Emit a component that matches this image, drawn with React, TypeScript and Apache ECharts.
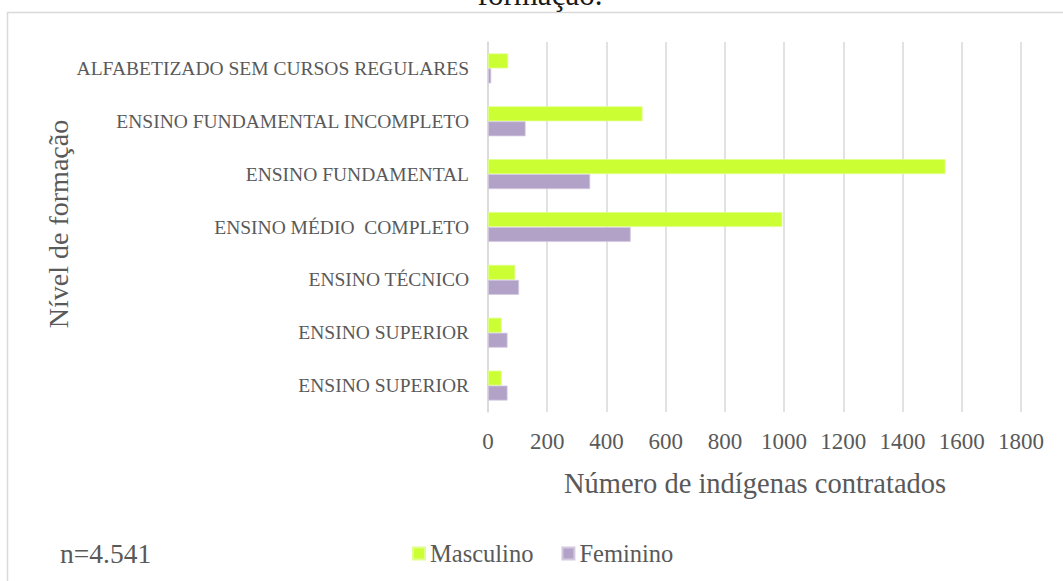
import React, { useEffect, useRef } from "react";
import * as echarts from "echarts";

const categories = [
  "ALFABETIZADO SEM CURSOS REGULARES",
  "ENSINO FUNDAMENTAL INCOMPLETO",
  "ENSINO FUNDAMENTAL",
  "ENSINO MÉDIO  COMPLETO",
  "ENSINO TÉCNICO",
  "ENSINO SUPERIOR",
  "ENSINO SUPERIOR",
];
const masculino = [68, 522, 1545, 994, 92, 46, 46];
const feminino = [11, 127, 345, 482, 105, 66, 66];
const seriesNames = ["Masculino", "Feminino"];
const titleText = "formação.";
const xAxisName = "Número de indígenas contratados";
const yAxisName = "Nível de formação";
const noteText = "n=4.541";

const FONT = "'Liberation Serif', serif";
const GREY = "#595959";

export default function App() {
  const ref = useRef<HTMLDivElement>(null);
  useEffect(() => {
    if (!ref.current) return;
    const chart = echarts.init(ref.current, undefined, { renderer: "svg" });
    chart.setOption({
      animation: false,
      backgroundColor: "#ffffff",
      textStyle: { fontFamily: FONT },
      grid: { left: 488, top: 42, width: 533, height: 370, containLabel: false },
      legend: {
        left: 407,
        top: 536,
        icon: "rect",
        itemWidth: 12,
        itemHeight: 12,
        itemGap: 28,
        textStyle: { fontSize: 24.5, color: GREY, fontFamily: FONT },
        data: seriesNames,
      },
      xAxis: {
        type: "value",
        min: 0,
        max: 1800,
        interval: 200,
        axisLine: { show: false },
        axisTick: { show: false },
        splitLine: { lineStyle: { color: "#d9d9d9", width: 1.5 } },
        axisLabel: {
          fontSize: 23,
          color: GREY,
          margin: 18,
          fontFamily: FONT,
          formatter: (v: number) => String(v),
        },
      },
      yAxis: {
        type: "category",
        inverse: true,
        data: categories,
        axisLine: { show: true, lineStyle: { color: "#d9d9d9", width: 1.5 } },
        axisTick: { show: false },
        axisLabel: { fontSize: 19.5, color: GREY, margin: 19, fontFamily: FONT },
      },
      series: [
        {
          name: seriesNames[0],
          type: "bar",
          data: masculino,
          barWidth: 15,
          barGap: "0%",
          itemStyle: { color: "#ccff33", borderColor: "#e0ff8a", borderWidth: 0.8 },
        },
        {
          name: seriesNames[1],
          type: "bar",
          data: feminino,
          barWidth: 15,
          barGap: "0%",
          itemStyle: { color: "#b3a2c7", borderColor: "#d3c9df", borderWidth: 0.8 },
        },
      ],
      graphic: [
        {
          type: "rect",
          silent: true,
          z: -1,
          shape: { x: 7.5, y: 12.5, width: 1100, height: 700 },
          style: { fill: "none", stroke: "#d9d9d9", lineWidth: 1.5 },
        },
        {
          type: "text",
          x: 540,
          y: -5.5,
          style: {
            text: titleText,
            fontSize: 31,
            fontFamily: FONT,
            fill: "#1a1a1a",
            align: "center",
            verticalAlign: "middle",
          },
        },
        {
          type: "text",
          x: 755,
          y: 483,
          style: {
            text: xAxisName,
            fontSize: 28.5,
            fontFamily: FONT,
            fill: GREY,
            align: "center",
            verticalAlign: "middle",
          },
        },
        {
          type: "text",
          x: 58,
          y: 224,
          rotation: Math.PI / 2,
          style: {
            text: yAxisName,
            fontSize: 28,
            fontFamily: FONT,
            fill: GREY,
            align: "center",
            verticalAlign: "middle",
          },
        },
        {
          type: "text",
          x: 60,
          y: 553,
          style: {
            text: noteText,
            fontSize: 27.5,
            fontFamily: FONT,
            fill: GREY,
            align: "left",
            verticalAlign: "middle",
          },
        },
      ],
    });
    return () => chart.dispose();
  }, []);
  return (
    <div
      ref={ref}
      style={{ position: "absolute", left: 0, top: 0, width: 1063, height: 581 }}
    />
  );
}
